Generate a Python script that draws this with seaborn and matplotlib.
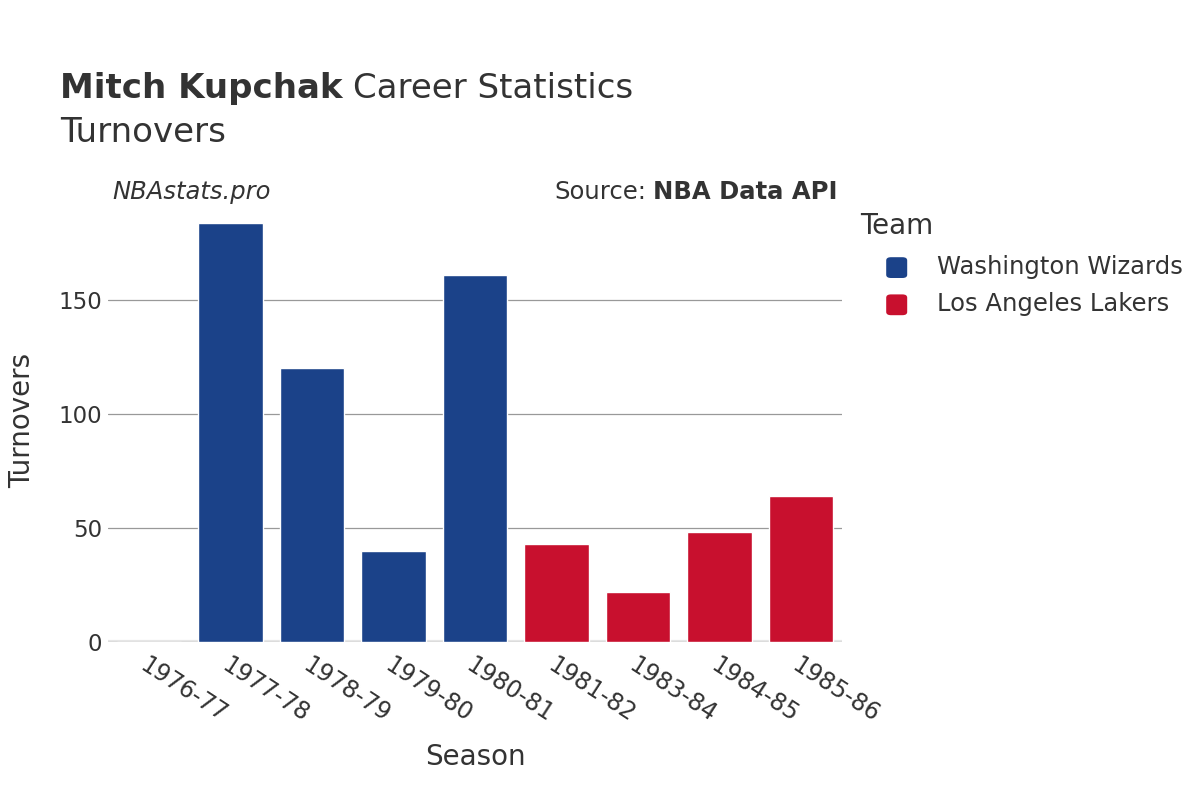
import matplotlib
matplotlib.use("Agg")
import matplotlib.pyplot as plt
import seaborn as sns
import pandas as pd
from matplotlib.patches import FancyBboxPatch

# ---- data ----
seasons = ["1976-77", "1977-78", "1978-79", "1979-80", "1980-81",
           "1981-82", "1983-84", "1984-85", "1985-86"]
teams = ["Washington Wizards", "Washington Wizards", "Washington Wizards",
         "Washington Wizards", "Washington Wizards", "Los Angeles Lakers",
         "Los Angeles Lakers", "Los Angeles Lakers", "Los Angeles Lakers"]
turnovers = [0, 184, 120, 40, 161, 43, 22, 48, 64]

team_colors = {"Washington Wizards": "#1b4289", "Los Angeles Lakers": "#c8102e"}

df = pd.DataFrame({"Season": seasons, "Team": teams, "Turnovers": turnovers})

sns.set_theme(style="white")
plt.rcParams["font.family"] = ["DejaVu Sans"]
txt = "#333333"

fig = plt.figure(figsize=(12, 8), dpi=100)
ax = fig.add_axes([0.09, 0.198, 0.6117, 0.552])

sns.barplot(data=df, x="Season", y="Turnovers", hue="Team",
            palette=team_colors, dodge=False, width=0.79, saturation=1,
            order=seasons, ax=ax, legend=False)

ax.set_ylim(0, 194)
ax.set_xlim(-0.5, len(seasons) - 0.5)
ax.set_yticks([0, 50, 100, 150])
ax.grid(axis="y", color="#999999", linewidth=0.9)
ax.set_axisbelow(True)
for s in ax.spines.values():
    s.set_visible(False)
ax.axhline(0, color="#e6e6e6", linewidth=3, zorder=0.5)

ax.tick_params(axis="y", labelsize=16.5, colors=txt, length=0, pad=4)
ax.tick_params(axis="x", labelsize=17, colors=txt, length=0, pad=8)
for lab in ax.get_xticklabels():
    lab.set_rotation(-33)
    lab.set_ha("left")
    lab.set_rotation_mode("anchor")

ax.set_xlabel("Season", fontsize=20, color=txt, labelpad=12)
ax.set_ylabel("Turnovers", fontsize=20, color=txt, labelpad=16)

# titles
fig.canvas.draw()
r = fig.canvas.get_renderer()
t1 = fig.text(0.05, 0.889, "Mitch Kupchak", fontsize=24.5, fontweight="bold",
              color=txt, va="center")
x1 = t1.get_window_extent(r).x1 / fig.bbox.width
fig.text(x1 + 0.009, 0.889, "Career Statistics", fontsize=24.5, color=txt, va="center")
fig.text(0.05, 0.835, "Turnovers", fontsize=24.5, color=txt, va="center")
fig.text(0.094, 0.76, "NBAstats.pro", fontsize=17.5, style="italic",
         color=txt, va="center")
t2 = fig.text(0.698, 0.76, "NBA Data API", fontsize=17.5, fontweight="bold",
              color=txt, va="center", ha="right")
x0 = t2.get_window_extent(r).x0 / fig.bbox.width
fig.text(x0 - 0.006, 0.76, "Source:", fontsize=17.5, color=txt, va="center", ha="right")

# legend
fig.text(0.717, 0.717, "Team", fontsize=20, color=txt, va="center")
for i, (name, col) in enumerate(team_colors.items()):
    y = 0.666 - i * 0.0465
    fig.patches.append(FancyBboxPatch((0.7385, y - 0.0135), 0.0175, 0.026,
                                      boxstyle="round,pad=0,rounding_size=0.004",
                                      transform=fig.transFigure,
                                      facecolor=col, edgecolor="none"))
    fig.text(0.781, y, name, fontsize=17.5, color=txt, va="center")

fig.savefig("out.png", dpi=100, facecolor="white")
